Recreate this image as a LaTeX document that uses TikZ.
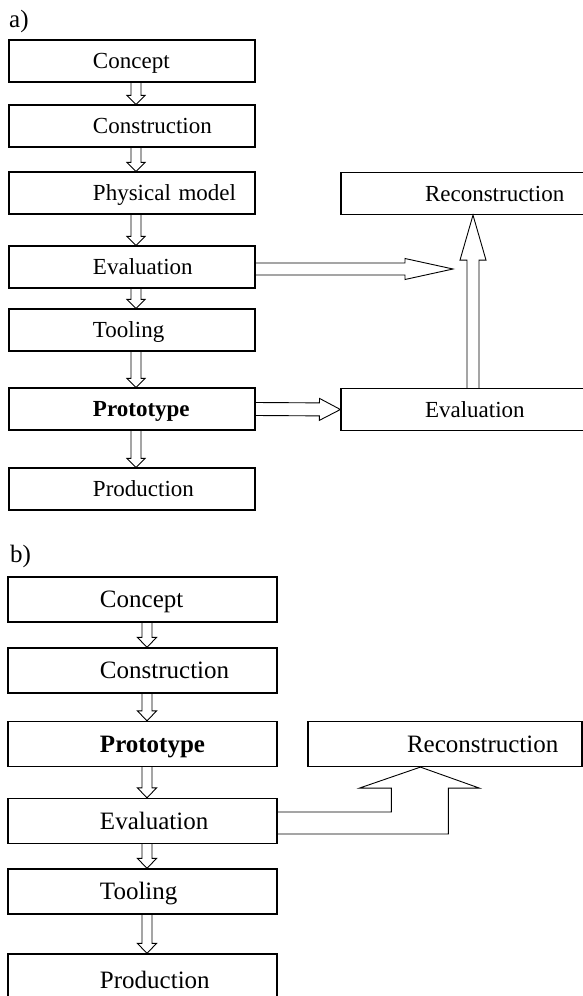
\documentclass[tikz,border=0pt]{standalone}
\usepackage{fontspec}
\setmainfont{Liberation Serif}
\usetikzlibrary{calc}
\tikzset{
  box/.style = {draw, line width=1.2pt, inner sep=0pt, align=left, text depth=0pt},
  lead/.style = {execute at begin node={\noindent\hspace*{#1}}},
  boxa/.style = {box, text width=246pt, minimum height=42pt, text height=15.5pt, lead=84pt, font=\fontsize{23}{27}\selectfont},
  boxb/.style = {box, text width=269pt, minimum height=45pt, text height=16.5pt, lead=#1, font=\fontsize{25}{29}\selectfont},
  boxb/.default = 92pt,
  lbl/.style = {anchor=base west, inner sep=0pt, font=\fontsize{25}{29}\selectfont},
  hollowline/.style = {line width=0.9pt, line join=miter}
}
% hollow block arrow: from #1 to tip #2, shaft half width #3, head half width #4, head length #5
\newcommand{\hollow}[5]{%
  \draw[hollowline]
    ($(#1)!#3!90:(#2)$) -- ($(#2)!#5!(#1)!#3!90:(#2)$) -- ($(#2)!#5!(#1)!#4!90:(#2)$) -- (#2)
    -- ($(#2)!#5!(#1)!#4!-90:(#2)$) -- ($(#2)!#5!(#1)!#3!-90:(#2)$) -- ($(#1)!#3!-90:(#2)$);}

\begin{document}
\begin{tikzpicture}[x=1pt,y=-1pt]
\useasboundingbox (0,0) rectangle (583,996);

% a)
\node [lbl] (la) at (9,27.5) {a)};
\node [boxa] (concA)  at (132,61)  {Concept};
\node [boxa] (consA)  at (132,126) {Construction};
\node [boxa] (physA)  at (132,193) {Physical model};
\node [boxa] (evalA)  at (132,267) {Evaluation};
\node [boxa] (toolA)  at (132,330) {Tooling};
\node [boxa] (protoA) at (132,409) {\textbf{Prototype}};
\node [boxa] (prodA)  at (132,489) {Production};
\node [boxa] (reconA) at (464,193.5) {Reconstruction};
\node [boxa] (evalR)  at (464,409.5) {Evaluation};
\coordinate (evtip) at (453,269);

\foreach \a/\b in {concA/consA, consA/physA, physA/evalA, evalA/toolA, toolA/protoA, protoA/prodA}
  \hollow{[xshift=4pt]\a.south}{[xshift=4pt]\b.north}{5pt}{9pt}{9pt};
\hollow{[yshift=-2pt]evalA.east}{evtip}{6pt}{10.5pt}{48pt}
\hollow{protoA.east}{evalR.west}{6.5pt}{11pt}{21pt}
\hollow{[xshift=9pt]evalR.north}{[xshift=9pt]reconA.south}{6pt}{13pt}{45pt}

% b)
\node [lbl] (lb) at (10,562) {b)};
\node [boxb] (concB)  at (142.5,599.5) {Concept};
\node [boxb] (consB)  at (142.5,670.5) {Construction};
\node [boxb] (protoB) at (142.5,744)   {\textbf{Prototype}};
\node [boxb] (evalB)  at (142.5,821)   {Evaluation};
\node [boxb] (toolB)  at (142.5,891.5) {Tooling};
\node [boxb, minimum height=52pt] (prodB) at (142.5,980) {Production};
\node [boxb=99pt, text width=274pt] (reconB) at (445,744) {Reconstruction};
\coordinate (tipB) at ($(reconB.south west)+(113,0)$);

\foreach \a/\b in {concB/consB, consB/protoB, protoB/evalB, evalB/toolB, toolB/prodB}
  \hollow{[xshift=4.5pt]\a.south}{[xshift=4.5pt]\b.north}{5pt}{9.5pt}{10pt};
\draw [hollowline] ($(evalB.east)+(0,-9)$) -| ($(tipB)+(-29,21)$) -- ++(-32,0) -- (tipB)
  -- ++(59,21) -- ++(-31,0) |- ($(evalB.east)+(0,13)$);
\end{tikzpicture}
\end{document}
